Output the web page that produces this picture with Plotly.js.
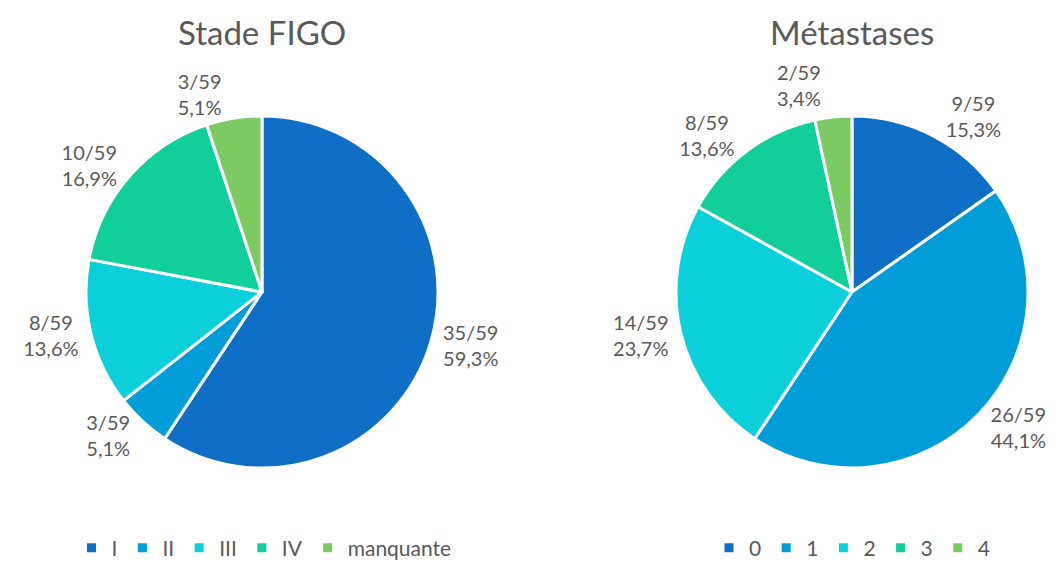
<!DOCTYPE html>
<html><head><meta charset="utf-8">
<script src="https://cdn.plot.ly/plotly-3.0.1.min.js"></script>
<style>html,body{margin:0;padding:0;background:#fff;overflow:hidden}#chart{width:1056px;height:580px}
path.textline{display:none}</style>
</head><body><div id="chart"></div>
<script>
const figoLabels = ["I", "II", "III", "IV", "manquante"];
const figoValues = [35, 3, 8, 10, 3];
const metaLabels = ["0", "1", "2", "3", "4"];
const metaValues = [9, 26, 14, 8, 2];
const total = 59;
const colors = ["#0F6FC6", "#009DD9", "#0BD0D9", "#10CF9B", "#7CCA62"];
const titles = ["Stade FIGO", "Métastases"];
const font = "Lato, 'Open Sans', sans-serif";
const grey = "#595959";
const H = 580;

function pie(labels, values, domain, legend) {
  return {
    type: "pie", labels: labels, values: values, sort: false,
    direction: "clockwise", rotation: 0,
    marker: {colors: colors, line: {color: "#ffffff", width: 3}},
    texttemplate: "%{value}/" + total + "<br>%{percent:.1%}",
    textposition: "outside", textfont: {family: font, size: 20, color: grey},
    hoverinfo: "label+value+percent",
    domain: domain, legend: legend, showlegend: true
  };
}
const yDom = [1 - 468/H, 1 - 116/H];
const data = [
  pie(figoLabels, figoValues, {x: [86/1056, 438/1056], y: yDom}, "legend"),
  pie(metaLabels, metaValues, {x: [676/1056, 1028/1056], y: yDom}, "legend2")
];
const legendBase = {orientation: "h", yanchor: "middle", xanchor: "center", y: (H - 548)/H,
  font: {family: font, size: 21, color: grey}, bgcolor: "rgba(0,0,0,0)"};
const layout = {
  width: 1056, height: H, margin: {l: 0, r: 0, t: 0, b: 0},
  paper_bgcolor: "#fff", separators: ", ",
  legend: Object.assign({}, legendBase, {x: 264/1056}),
  legend2: Object.assign({}, legendBase, {x: 852/1056}),
  annotations: [
    {text: titles[0], x: 262/1056, y: 1 - 32/H, xref: "paper", yref: "paper", showarrow: false,
     xanchor: "center", yanchor: "middle", font: {family: font, size: 33, color: grey}},
    {text: titles[1], x: 852/1056, y: 1 - 32/H, xref: "paper", yref: "paper", showarrow: false,
     xanchor: "center", yanchor: "middle", font: {family: font, size: 33, color: grey}}
  ]
};
Plotly.newPlot("chart", data, layout, {displayModeBar: false, staticPlot: true});
</script></body></html>
